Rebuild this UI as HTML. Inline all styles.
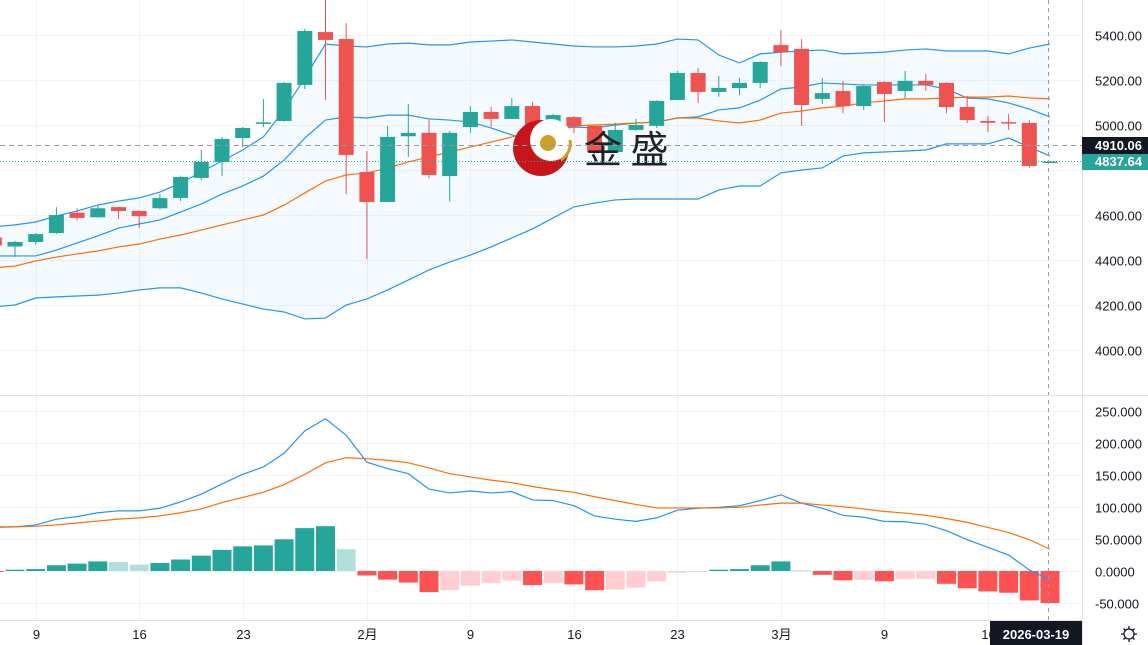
<!DOCTYPE html>
<html><head><meta charset="utf-8"><style>
html,body{margin:0;padding:0;background:#fff;width:1148px;height:645px;overflow:hidden}
svg{display:block;font-family:"Liberation Sans","Noto Sans CJK SC",sans-serif}
</style></head><body>
<svg id="chart" width="1148" height="645" viewBox="0 0 1148 645" xmlns="http://www.w3.org/2000/svg">
<g id="grid"></g>
<path id="bandfill" fill="#2196f3" fill-opacity="0.05" stroke="none"/>
<g id="lines"></g>
<g id="candles"></g>
<g id="macd"></g>
<g>
  <circle cx="541" cy="148" r="28" fill="#c8141b"/>
  <circle cx="551" cy="140" r="21" fill="#fff"/>
  <circle cx="548" cy="143" r="8" fill="#c9a227"/>
  <path d="M561 160 Q572 152 570 140" stroke="#c9a227" stroke-width="3" fill="none"/>
  <text x="584" y="163" font-size="38" fill="#222" font-family="'Noto Sans CJK SC',sans-serif">金 盛</text>
</g>
<line x1="0" y1="145.5" x2="1082" y2="145.5" stroke="#9598a1" stroke-dasharray="5,4" stroke-width="1"/>
<line x1="0" y1="161.5" x2="1082" y2="161.5" stroke="#26a69a" stroke-dasharray="1,2" stroke-width="1"/>
<line x1="1048.5" y1="0" x2="1048.5" y2="620" stroke="#9598a1" stroke-dasharray="4,4" stroke-width="1"/>
<rect x="1082" y="0" width="66" height="645" fill="#fff"/>
<line x1="1082.5" y1="0" x2="1082.5" y2="645" stroke="#e0e3eb"/>
<line x1="0" y1="395.5" x2="1148" y2="395.5" stroke="#e0e3eb"/>
<line x1="0" y1="620.5" x2="1082" y2="620.5" stroke="#e0e3eb"/>
<g id="axes" font-size="13" fill="#131722"></g>
<g>
  <rect x="1082" y="137" width="66" height="17" fill="#131722"/>
  <text x="1095" y="150" font-size="13" font-weight="bold" fill="#fff">4910.06</text>
</g>
<g>
  <rect x="1082" y="154" width="66" height="16" fill="#26a69a"/>
  <text x="1095" y="166" font-size="13" font-weight="bold" fill="#fff">4837.64</text>
</g>
<g>
  <rect x="990" y="621" width="92" height="24" fill="#131722"/>
  <text x="1036" y="639" font-size="13" font-weight="bold" fill="#fff" text-anchor="middle">2026-03-19</text>
</g>
<g stroke="#131722" fill="none" stroke-width="1.3">
  <circle cx="1129" cy="634" r="5"/>
  <path d="M1129 626v3M1129 639v3M1121 634h3M1134 634h3M1123.5 628.5l2 2M1132.5 637.5l2 2M1123.5 639.5l2-2M1132.5 630.5l2-2"/>
</g>
</svg>
<script>
const opens=[4500,4460,4480,4520,4610,4590,4635,4618,4630,4676,4765,4836,4942,5005,5018,5178,5413,5382,4791,4658,4950,4965,4773,4991,5058,5027,5084,4920,5035,4996,4880,4978,4996,5111,5231,5147,5164,5187,5355,5338,5116,5151,5084,5191,5151,5196,5187,5080,5018,5013,5009,4835];
const highs=[4505,4485,4520,4635,4630,4640,4638,4622,4693,4775,4889,4947,4991,5115,5192,5427,5556,5453,4884,4996,5093,5027,4973,5084,5080,5120,5102,5050,5040,4998,5010,5027,5110,5240,5253,5218,5209,5284,5422,5382,5209,5196,5178,5196,5240,5227,5191,5129,5040,5049,5022,4840];
const lows=[4455,4413,4468,4515,4575,4588,4582,4542,4625,4662,4755,4773,4902,4991,5015,5160,5111,4693,4404,4658,4858,4764,4660,4965,4991,5027,4920,4910,4965,4870,4878,4973,4987,5111,5098,5125,5133,5164,5262,4996,5093,5053,5067,5013,5120,5151,5053,5009,4969,4978,4809,4833];
const closes=[4465,4480,4515,4600,4587,4630,4618,4595,4675,4769,4836,4938,4987,5012,5187,5418,5378,4867,4658,4947,4965,4778,4965,5058,5027,5084,4920,5044,4995,4880,4978,5000,5107,5231,5147,5165,5187,5280,5324,5089,5142,5084,5173,5138,5196,5178,5080,5022,5010,5009,4818,4837.64];
const bbUpper=[4548,4556,4569,4596,4618,4644,4662,4676,4702,4742,4791,4840,4889,4947,5067,5209,5360,5351,5347,5360,5364,5356,5356,5369,5373,5378,5369,5360,5351,5347,5347,5351,5360,5382,5378,5311,5276,5316,5324,5329,5333,5316,5320,5324,5333,5338,5329,5329,5329,5316,5342,5360];
const bbMiddle=[4418,4418,4418,4444,4476,4507,4542,4560,4578,4613,4649,4693,4729,4773,4844,4942,5022,5036,5031,5044,5044,5027,5022,5013,4987,4956,4933,4978,4991,4987,5000,5009,5013,5031,5036,5067,5076,5111,5160,5169,5187,5182,5178,5178,5178,5178,5160,5120,5116,5098,5071,5036];
const bbLower=[4192,4200,4231,4236,4240,4244,4253,4267,4276,4276,4253,4227,4204,4182,4169,4138,4142,4200,4227,4267,4311,4356,4391,4422,4458,4498,4538,4587,4636,4653,4667,4671,4671,4671,4671,4711,4729,4729,4787,4800,4809,4862,4876,4880,4884,4889,4916,4916,4916,4942,4902,4862];
const maLine=[4366,4373,4396,4413,4427,4440,4458,4471,4493,4511,4533,4556,4578,4600,4644,4698,4751,4778,4787,4809,4836,4858,4880,4902,4924,4947,4969,4987,4996,5000,5004,5009,5013,5031,5031,5018,5009,5022,5053,5062,5076,5084,5098,5107,5116,5116,5120,5124,5124,5129,5120,5116];
const macdLine=[68,69,72,81,85,91,94,94,98,108,120,136,151,162.5,184,219,238,212,170,160,152,128,122,125,122,124,111,110,102,86,81,77.5,83,95,98,99.5,102,110,119,106,98,87,84,77.5,77,73,63,49,37,25,1.6,-14];
const signalLine=[69,69,70,72,75,78,81,83,86,91,97,107,115,123,135,151,169,177,175.5,173,169,161,152,147,142,138,132,127,123,116,110,104,98.5,98.5,98.5,98.5,99.5,103,106,106,103,100.5,97,93,90.5,87,82,76,68,60,49,34];
const histogram=[-1,2,3,9,11.5,15,14,10,12.5,18,24,33,38.5,40,49.5,67,70,34,-7,-13.5,-18,-33,-30,-23,-19,-15,-22,-19,-21,-30,-29,-26,-16,-2.6,-1,2,3,9,15,1,-6,-14.5,-14,-16,-13,-12.5,-20,-27,-32,-34,-46,-50];
const priceTicks=[5400,5200,5000,4800,4600,4400,4200,4000];
const macdTicks=[250,200,150,100,50,0,-50];
const macdTickLabels=["250.000","200.000","150.000","100.000","50.0000","0.0000","-50.000"];
const dateIdx=[2,7,12,18,23,28,33,38,43,48];
const dateLabels=["9","16","23","2月","9","16","23","3月","9","16"];

const NS="http://www.w3.org/2000/svg";
const xOf=i=>-5.7+i*20.7;
const pY=v=>35+(5400-v)*0.225;
const mY=v=>571-v*0.64;
function mk(tag,attrs,parent){const e=document.createElementNS(NS,tag);for(const k in attrs)e.setAttribute(k,attrs[k]);parent.appendChild(e);return e;}
const grid=document.getElementById('grid'),axes=document.getElementById('axes');
priceTicks.forEach(t=>{const y=Math.round(pY(t))+0.5;
  const l=mk('line',{x1:0,x2:1082,y1:y,y2:y,stroke:'#f0f3fa'},grid);
  
  
  if(t!==4800){const tx=mk('text',{x:1095,y:y+5},axes);tx.textContent=t.toFixed(2);
  
  }
});
macdTicks.forEach((t,k)=>{const y=Math.round(mY(t))+0.5;
  const l=mk('line',{x1:0,x2:1082,y1:y,y2:y,stroke:'#f0f3fa'},grid);
  
  
  const tx=mk('text',{x:1095,y:y+5},axes);tx.textContent=macdTickLabels[k];
  
  
});
dateIdx.forEach((d,k)=>{const x=Math.round(xOf(d))+0.5;
  const l=mk('line',{x1:x,x2:x,y1:0,y2:620,stroke:'#f0f3fa'},grid);
  
  
  const tx=mk('text',{x:x,y:639,'text-anchor':'middle'},axes);tx.textContent=dateLabels[k];
  
  
});
let d='M'+bbUpper.map((v,i)=>xOf(i)+','+pY(v)).join('L');
for(let i=bbLower.length-1;i>=0;i--)d+='L'+xOf(i)+','+pY(bbLower[i]);
document.getElementById('bandfill').setAttribute('d',d+'Z');
const lines=document.getElementById('lines');
function poly(arr,f,color,name,parent){const p=mk('polyline',{points:arr.map((v,i)=>xOf(i)+','+f(v)).join(' '),fill:'none',stroke:color,'stroke-width':1.2},parent);
  
  }
poly(bbUpper,pY,'#2196f3','bollinger-upper',lines);
poly(bbMiddle,pY,'#2196f3','bollinger-middle',lines);
poly(bbLower,pY,'#2196f3','bollinger-lower',lines);
poly(maLine,pY,'#ff6d00','moving-average',lines);
const cg=document.getElementById('candles');
opens.forEach((o,i)=>{const c=closes[i],up=c>=o,col=up?'#26a69a':'#ef5350',x=xOf(i);
  const w=mk('line',{x1:x,x2:x,y1:pY(highs[i]),y2:pY(lows[i]),stroke:col,'stroke-width':1},cg);
  
  
  const top=pY(Math.max(o,c)),h=Math.max(1.5,pY(Math.min(o,c))-top);
  const b=mk('rect',{x:x-7.5,y:top,width:15,height:h,fill:col},cg);
  
  
});
const mg=document.getElementById('macd');
histogram.forEach((v,i)=>{const prev=i>0?histogram[i-1]:0;let col;
  if(v>=0)col=(v>=prev?'#26a69a':'#b2dfdb');else col=(v<=prev?'#ff5252':'#ffcdd2');
  const y0=mY(0),y1=mY(v);
  const r=mk('rect',{x:xOf(i)-9.5,y:Math.min(y0,y1),width:19,height:Math.max(1,Math.abs(y1-y0)),fill:col},mg);
  
  
});
poly(macdLine,mY,'#2196f3','macd-line',mg);
poly(signalLine,mY,'#ff6d00','signal-line',mg);
</script>
</body></html>
